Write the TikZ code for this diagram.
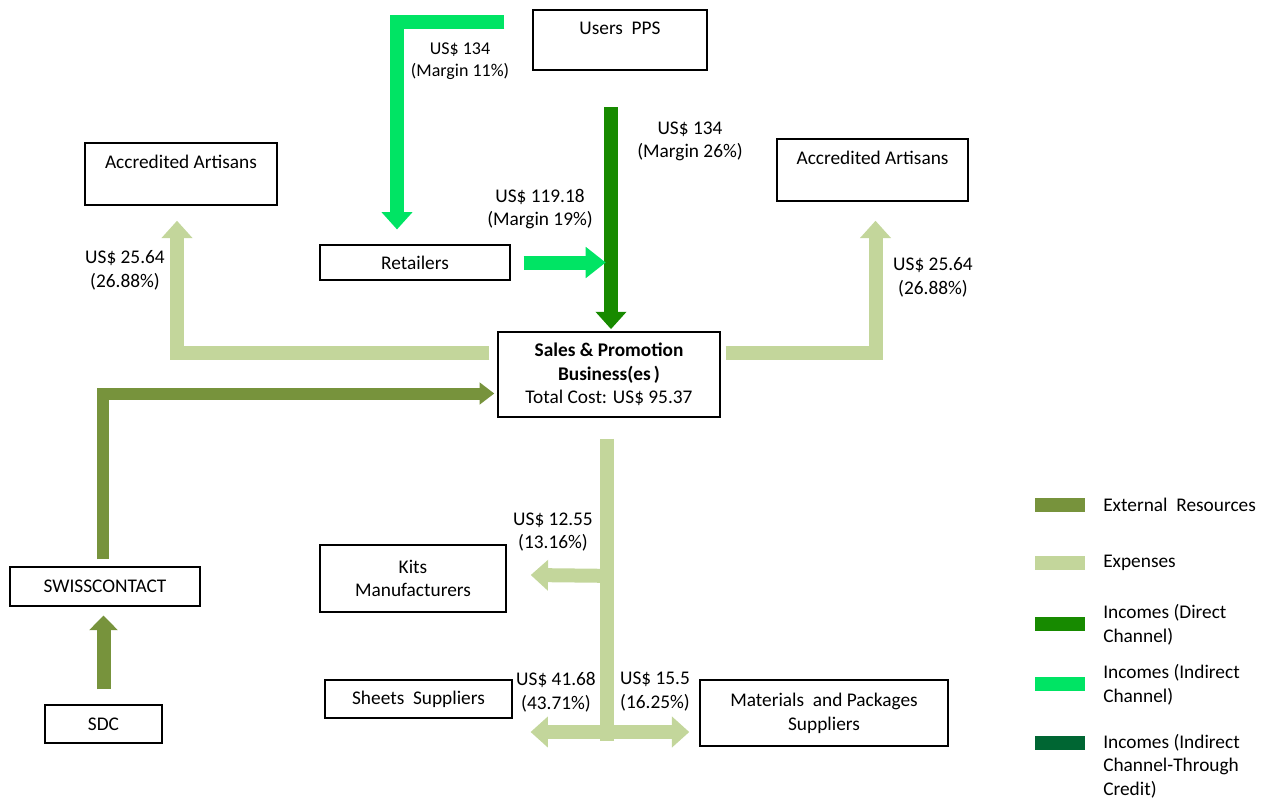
\documentclass[tikz,border=0pt]{standalone}
\usepackage{fontspec}
\setmainfont{Carlito}
\usetikzlibrary{arrows.meta,calc}
\definecolor{extgreen}{RGB}{119,147,60}
\definecolor{expgreen}{RGB}{195,214,155}
\definecolor{dirgreen}{RGB}{23,138,0}
\definecolor{indgreen}{RGB}{0,228,100}
\definecolor{credgreen}{RGB}{0,102,51}

\begin{document}
\begin{tikzpicture}
  [x=.75pt,y=-.75pt,
   every node/.style={font=\fontsize{14.5}{17.8}\selectfont,align=center},
   box/.style={draw,line width=1.1pt,inner sep=2pt},
   band/.style={line width=10.5pt,-{Triangle[width=22.5pt,length=13pt]}},
   val/.style={inner sep=0pt}]
  \useasboundingbox (0,0) rectangle (1273,801);

  \node[box,minimum width=130.5pt,minimum height=45pt] (pps) at (620,40) {Users\ \ PPS\\~};
  \node[box,minimum width=144pt,minimum height=46.5pt] (artL) at (181,174) {Accredited Artisans\\~};
  \node[box,minimum width=143pt,minimum height=46.5pt] (artR) at (872.5,170) {Accredited Artisans\\~};
  \node[box,minimum width=142.5pt,minimum height=26pt] (ret) at (415,262.5) {Retailers};
  \node[box,minimum width=166.5pt,minimum height=64pt] (sales) at (609,374.5)
    {\textbf{Sales \& Promotion}\\\textbf{Business(es\,)}\\Total Cost: US\$ 95.37};
  \node[box,minimum width=142.5pt,minimum height=29pt] (swiss) at (105,586.5) {SWISSCONTACT};
  \node[box,minimum width=88pt,minimum height=28.5pt] (sdc) at (103.5,724) {SDC};
  \node[box,minimum width=139.5pt,minimum height=50pt] (kits) at (413,578.5) {Kits\\Manufacturers};
  \node[box,minimum width=140pt,minimum height=28.5pt] (sheets) at (418.5,699) {Sheets\ \ Suppliers};
  \node[box,minimum width=186pt,minimum height=49.5pt] (mat) at (824,713) {Materials\ \ and Packages\\Suppliers};

  % incomes
  \draw[band,indgreen] ($(pps.north west)+(-28,13)$) -| ($(ret.north)+(-18,-15)$);
  \draw[band,dirgreen] ($(sales.north)+(2,-224)$) -- ($(sales.north)+(2,-2)$);
  \draw[band,indgreen,-{Triangle[width=22.5pt,length=15pt]}] ($(ret.east)+(13,0)$) -- ($(ret.east)+(95,0)$);

  % expenses
  \draw[band,expgreen] ($(sales.west)+(-8,-22)$) -| ($(artL.south)+(-4,15)$);
  \draw[band,expgreen] ($(sales.east)+(5,-22)$) -| ($(artR.south)+(3,19)$);
  \draw[expgreen,line width=10.5pt] ($(sales.south)+(-2,21)$) -- ($(sales.south)+(-2,323)$);
  \draw[band,expgreen] ($(sales.south)+(3,158)$) -- ($(kits.east)+(24,-3.5)$);
  \draw[band,expgreen,{Triangle[width=22.5pt,length=13pt]}-{Triangle[width=22.5pt,length=13pt]}]
    ($(sheets.east)+(18,33)$) -- ($(mat.west)+(-10,19)$);

  % external resources
  \draw[band,extgreen,line width=9pt,-{Triangle[width=16pt,length=11pt]}] ($(swiss.north)+(-2,-7)$) |- ($(sales.west)+(-3,19)$);
  \draw[band,extgreen,-{Triangle[width=21pt,length=11pt]}] ($(sdc.north)+(0,-15)$) -- ($(swiss.south -| sdc.north)+(0,9)$);

  \node[val,font=\fontsize{13.5}{16.5}\selectfont] (m11) at (460,61) {US\$ 134\\(Margin 11\%)};
  \node[val] (m26) at (690,141.5) {US\$ 134\\(Margin 26\%)};
  \node[val] (m19) at (540,209) {US\$ 119.18\\(Margin 19\%)};
  \node[val] (cl) at (125,270) {US\$ 25.64\\(26.88\%)};
  \node[val] (cr) at (933,277) {US\$ 25.64\\(26.88\%)};
  \node[val] (ck) at (553,532) {US\$ 12.55\\(13.16\%)};
  \node[val] (cs) at (556,692.5) {US\$ 41.68\\(43.71\%)};
  \node[val] (cm) at (655,691.5) {US\$ 15.5\\(16.25\%)};

  % legend
  \foreach \y/\ty/\col/\txt in {505/505/extgreen/External\ \ Resources,563/563/expgreen/Expenses,
      624/625/dirgreen/{Incomes (Direct\\Channel)},684/685/indgreen/{Incomes (Indirect\\Channel)},
      743/766/credgreen/{Incomes (Indirect\\Channel-Through\\Credit)}}
    {\node[fill=\col,minimum width=37.5pt,minimum height=11pt,inner sep=0pt] (sw\y) at (1060,\y) {};
     \node[anchor=west,align=left,inner sep=0pt] (leg\y) at (1103,\ty) {\txt};}

\end{tikzpicture}
\end{document}
